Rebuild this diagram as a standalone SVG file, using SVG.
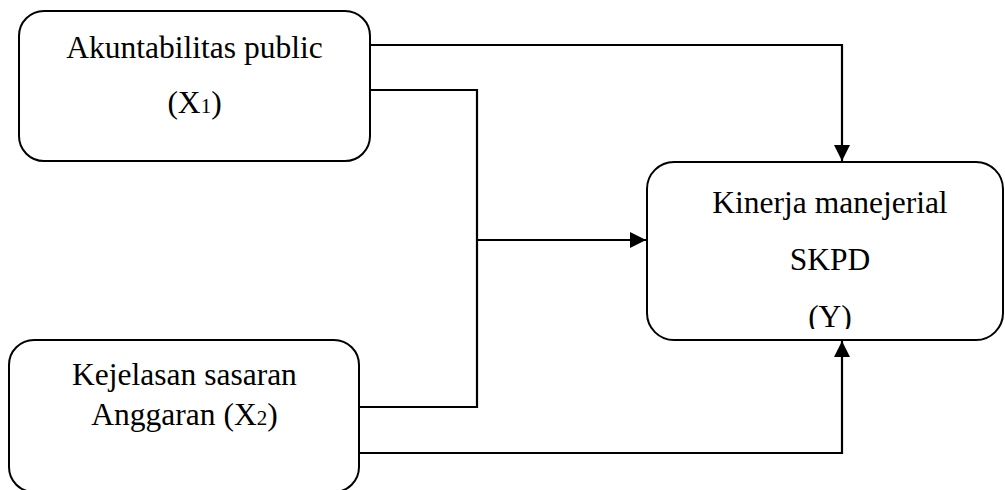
<svg xmlns="http://www.w3.org/2000/svg" width="1005" height="490" viewBox="0 0 1005 490">
  <style>
    .box { fill: #ffffff; stroke: #000000; stroke-width: 2; }
    .lbl { font-family: "Liberation Serif", "Times New Roman", serif; font-size: 31.5px; fill: #000000; text-anchor: middle; }
    .sub { font-size: 21px; }
    .conn { fill: none; stroke: #000000; stroke-width: 2.2; }
  </style>
  <defs>
    <marker id="arrow" markerUnits="userSpaceOnUse" markerWidth="16" markerHeight="16" viewBox="0 0 16 16" refX="16" refY="8" orient="auto">
      <path d="M0,0 L16,8 L0,16 Z" fill="#000000"/>
    </marker>
    <clipPath id="clipY">
      <rect x="640" y="150" width="365" height="179"/>
    </clipPath>
  </defs>
  <rect width="1005" height="490" fill="#ffffff"/>

  <g id="connectors">
    <path class="conn" d="M370,45 H842 V161" marker-end="url(#arrow)"/>
    <path class="conn" d="M370,90 H477 V407 H359"/>
    <path class="conn" d="M477,240 H646" marker-end="url(#arrow)"/>
    <path class="conn" d="M359,453 H842 V341" marker-end="url(#arrow)"/>
  </g>

  <g id="node-x1">
    <rect class="box" x="19" y="11" width="351" height="150" rx="25" ry="25"/>
    <text class="lbl" x="194.5" y="58">Akuntabilitas public</text>
    <text class="lbl" x="194.5" y="113">(X<tspan class="sub">1</tspan>)</text>
  </g>

  <g id="node-x2">
    <rect class="box" x="9" y="340" width="350" height="152" rx="25" ry="25"/>
    <text class="lbl" x="184.5" y="385">Kejelasan sasaran</text>
    <text class="lbl" x="184.5" y="425">Anggaran (X<tspan class="sub">2</tspan>)</text>
  </g>

  <g id="node-y">
    <rect class="box" x="647" y="162" width="356" height="178" rx="27" ry="27"/>
    <text class="lbl" x="830" y="213">Kinerja manejerial</text>
    <text class="lbl" x="830" y="270">SKPD</text>
    <text class="lbl" x="830" y="327" clip-path="url(#clipY)">(Y)</text>
  </g>
</svg>
